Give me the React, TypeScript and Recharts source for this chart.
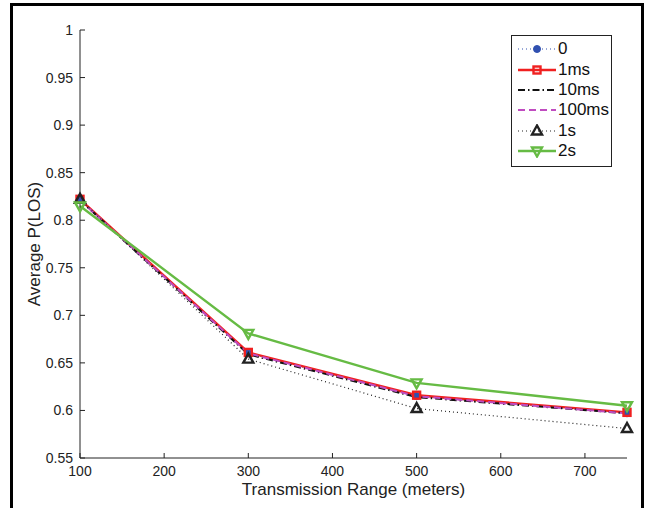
import { LineChart, Line, XAxis, YAxis } from 'recharts';

const ranges = [100, 300, 500, 750];
const p0 = [0.822, 0.66, 0.615, 0.597];
const p1ms = [0.822, 0.661, 0.616, 0.598];
const p10ms = [0.821, 0.659, 0.614, 0.597];
const p100ms = [0.821, 0.66, 0.615, 0.597];
const p1s = [0.822, 0.654, 0.602, 0.581];
const p2s = [0.815, 0.681, 0.629, 0.605];

const xTicks = [100, 200, 300, 400, 500, 600, 700];
const yTicks = [0.55, 0.6, 0.65, 0.7, 0.75, 0.8, 0.85, 0.9, 0.95, 1];

type Marker = 'circle' | 'square' | 'up' | 'down' | 'none';

const SERIES = [
  { key: 'p0', name: '0', color: '#3050b0', width: 1.2, dash: '1 3', marker: 'circle' as Marker, values: p0 },
  { key: 'p1ms', name: '1ms', color: '#f02020', width: 2.4, dash: undefined, marker: 'square' as Marker, values: p1ms },
  { key: 'p10ms', name: '10ms', color: '#111111', width: 2, dash: '7 3 1.5 3', marker: 'none' as Marker, values: p10ms },
  { key: 'p100ms', name: '100ms', color: '#c04cc0', width: 2, dash: '7 4', marker: 'none' as Marker, values: p100ms },
  { key: 'p1s', name: '1s', color: '#222222', width: 1.2, dash: '1 3', marker: 'up' as Marker, values: p1s },
  { key: 'p2s', name: '2s', color: '#66bb44', width: 2.4, dash: undefined, marker: 'down' as Marker, values: p2s },
];

const data = ranges.map((r, i) => {
  const row: any = { range: r };
  SERIES.forEach((s) => {
    row[s.key] = s.values[i];
  });
  return row;
});

const FONT = '"Liberation Sans", Arial, sans-serif';

const markerShape = (marker: Marker, color: string, cx: number, cy: number, key?: string) => {
  if (marker === 'circle') {
    return <circle key={key} cx={cx} cy={cy} r={3.5} fill={color} stroke={color} />;
  }
  if (marker === 'square') {
    return <rect key={key} x={cx - 3.5} y={cy - 3.5} width={7} height={7} fill="none" stroke={color} strokeWidth={2.4} />;
  }
  if (marker === 'up') {
    return (
      <polygon
        key={key}
        points={`${cx},${cy - 5.5} ${cx - 5},${cy + 3.5} ${cx + 5},${cy + 3.5}`}
        fill="none"
        stroke={color}
        strokeWidth={2.4}
      />
    );
  }
  if (marker === 'down') {
    return (
      <polygon
        key={key}
        points={`${cx},${cy + 5.5} ${cx - 5},${cy - 3.5} ${cx + 5},${cy - 3.5}`}
        fill="none"
        stroke={color}
        strokeWidth={2.4}
      />
    );
  }
  return <g key={key} />;
};

// legend drawn as plain html so recharts doesn't reserve space for it
const LegendBox = () => (
  <div
    style={{
      position: 'absolute',
      left: 511,
      top: 35,
      border: '1.5px solid #222',
      background: '#fff',
      width: 99,
      padding: '3px 0 5px 0',
      fontFamily: FONT,
      fontSize: 17,
      color: '#111',
    }}
  >
    {SERIES.map((s) => (
      <div key={s.key} style={{ display: 'flex', alignItems: 'center', height: 20.4 }}>
        <svg width={42} height={14} style={{ marginLeft: 4 }}>
          <line x1={2} x2={40} y1={7} y2={7} stroke={s.color} strokeWidth={s.width} strokeDasharray={s.dash} />
          {markerShape(s.marker, s.color, 21, 7)}
        </svg>
        <span>{s.name}</span>
      </div>
    ))}
  </div>
);

const tickStyle = { fontSize: 14, fill: '#222', fontFamily: FONT };

export default function App() {
  return (
    <div style={{ position: 'fixed', left: 0, top: 0, width: 650, height: 508, background: '#fff' }}>
      <div
        style={{
          position: 'absolute',
          left: 10,
          top: 3,
          width: 628,
          height: 520,
          borderLeft: '3px solid #000',
          borderTop: '3px solid #000',
          borderRight: '3px solid #000',
        }}
      />
      <div style={{ position: 'absolute', left: 0, top: 0 }}>
        <LineChart width={650} height={508} data={data} margin={{ top: 30, right: 23, left: 30, bottom: 10 }}>
          <XAxis
            dataKey="range"
            type="number"
            domain={[100, 750]}
            ticks={xTicks}
            tick={tickStyle}
            tickSize={-5}
            tickMargin={13}
            height={40}
            axisLine={{ stroke: '#222' }}
            tickLine={{ stroke: '#222' }}
            label={{
              value: 'Transmission Range (meters)',
              position: 'insideBottom',
              offset: 3,
              style: { fontSize: 17, fill: '#222', fontFamily: FONT },
            }}
          />
          <YAxis
            type="number"
            domain={[0.55, 1]}
            ticks={yTicks}
            tick={tickStyle}
            tickFormatter={(v: number) => String(v)}
            tickSize={-5}
            tickMargin={12}
            width={50}
            axisLine={{ stroke: '#222' }}
            tickLine={{ stroke: '#222' }}
            label={{
              value: 'Average P(LOS)',
              angle: -90,
              position: 'insideLeft',
              offset: 4,
              style: { fontSize: 17, fill: '#222', fontFamily: FONT, textAnchor: 'middle' },
            }}
          />
          {SERIES.map((s) => (
            <Line
              key={s.key}
              dataKey={s.key}
              name={s.name}
              stroke={s.color}
              strokeWidth={s.width}
              strokeDasharray={s.dash}
              isAnimationActive={false}
              dot={(props: any) => markerShape(s.marker, s.color, props.cx, props.cy, `${s.key}-${props.index}`)}
              activeDot={false}
            />
          ))}
        </LineChart>
      </div>
      <LegendBox />
    </div>
  );
}
